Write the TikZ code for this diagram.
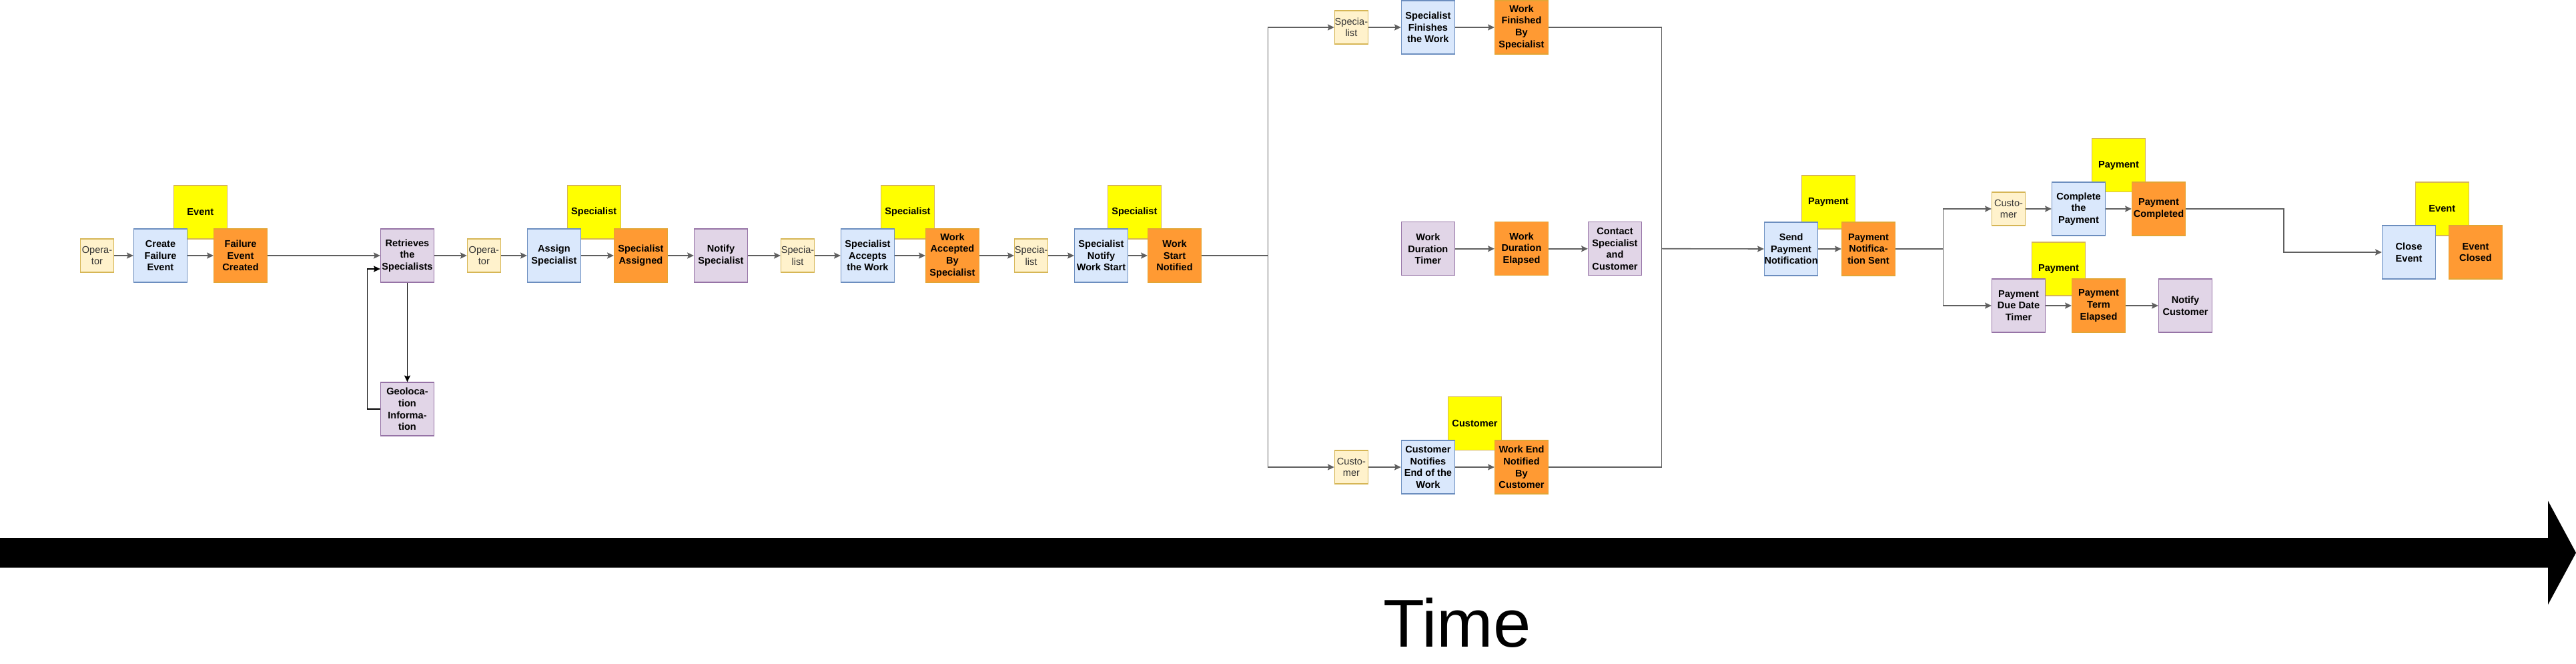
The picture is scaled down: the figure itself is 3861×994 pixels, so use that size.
\documentclass[tikz,border=0pt]{standalone}
\usepackage{fontspec}
\setmainfont{Liberation Sans}
\usepackage{tikz}
\usetikzlibrary{arrows.meta}
\definecolor{taskfill}{HTML}{DAE8FC}
\definecolor{taskline}{HTML}{6C8EBF}
\definecolor{evtfill}{HTML}{FF9A33}
\definecolor{evtline}{HTML}{E3A535}
\definecolor{tagfill}{HTML}{FFFF00}
\definecolor{tagline}{HTML}{D6B656}
\definecolor{procfill}{HTML}{E1D5E7}
\definecolor{procline}{HTML}{9673A6}
\definecolor{actfill}{HTML}{FFF2CC}
\definecolor{actline}{HTML}{D6B656}
\definecolor{flowcol}{HTML}{5F5F5F}
\tikzset{>={Stealth[length=5.6pt,width=5.2pt,inset=1pt]}}
\tikzset{
  box/.style={rectangle, line width=0.7pt, align=center, inner sep=0pt,
    minimum width=1.6cm, minimum height=1.6cm,
    font=\fontsize{8.3}{10}\selectfont\bfseries},
  task/.style={box, fill=taskfill, draw=taskline},
  evt/.style={box, fill=evtfill, draw=evtline},
  tag/.style={box, fill=tagfill, draw=tagline},
  proc/.style={box, fill=procfill, draw=procline},
  act/.style={box, fill=actfill, draw=actline, minimum width=1cm,
    minimum height=1cm, text=black!80,
    font=\fontsize{8.3}{10}\selectfont},
  flow/.style={draw=flowcol, line width=0.9pt},
  thin/.style={draw=black, line width=0.6pt}
}

\begin{document}
\begin{tikzpicture}[x=0.02cm,y=-0.02cm]
\useasboundingbox (0,0) rectangle (3861,994);

% ---------------- Owner tags (behind) ----------------
\node[tag] (tagev1) at (300.3,318) {Event};
\node[tag] (tagsp1) at (890.2,318) {Specialist};
\node[tag] (tagsp2) at (1360.5,318) {Specialist};
\node[tag] (tagsp3) at (1700.3,318) {Specialist};
\node[tag] (tagcu) at (2210.5,634.7) {Customer};
\node[tag] (tagpay1) at (2740.4,303) {Payment};
\node[tag] (tagpay2) at (3175.5,247.7) {Payment};
\node[tag] (tagpay3) at (3085.5,403) {Payment};
\node[tag] (tagev2) at (3660.3,313) {Event};

% ---------------- Failure event ----------------
\node[act] (op1) at (145.5,383) {Opera-\\tor};
\node[task] (create) at (240.5,383) {Create\\Failure\\Event};
\node[evt] (created) at (360.6,383) {Failure\\Event\\Created};
\node[proc] (retrieve) at (610.5,383) {Retrieves\\the\\Specialists};
\node[proc] (geo) at (610.5,613) {Geoloca-\\tion\\Informa-\\tion};
\coordinate (loop) at (550.8,403);

% ---------------- Assignment ----------------
\node[act] (op2) at (725.4,383) {Opera-\\tor};
\node[task] (assign) at (830.5,383) {Assign\\Specialist};
\node[evt] (assigned) at (960.5,383) {Specialist\\Assigned};
\node[proc] (notifyspec) at (1080.5,383) {Notify\\Specialist};
\node[act] (sp1) at (1195.5,383) {Specia-\\list};
\node[task] (accepts) at (1300.5,383) {Specialist\\Accepts\\the Work};
\node[evt] (accepted) at (1427.5,383) {Work\\Accepted\\By\\Specialist};
\node[act] (sp2) at (1545.5,383) {Specia-\\list};
\node[task] (notifystart) at (1650.5,383) {Specialist\\Notify\\Work Start};
\node[evt] (startnotified) at (1760.5,383) {Work\\Start\\Notified};
\coordinate (split) at (1900.4,383);

% ---------------- Work branches ----------------
\node[act] (sp3) at (2025.4,41) {Specia-\\list};
\node[task] (finishes) at (2140.4,41) {Specialist\\Finishes\\the Work};
\node[evt] (finished) at (2280.5,41) {Work\\Finished\\By\\Specialist};

\node[proc] (timer) at (2140.4,372.8) {Work\\Duration\\Timer};
\node[evt] (elapsed) at (2280.5,372.8) {Work\\Duration\\Elapsed};
\node[proc] (contact) at (2420.5,372.8) {Contact\\Specialist\\and\\Customer};

\node[act] (cu1) at (2025.4,700) {Custo-\\mer};
\node[task] (custnotifies) at (2140.4,700) {Customer\\Notifies\\End of the\\Work};
\node[evt] (endnotified) at (2280.5,700) {Work End\\Notified\\By\\Customer};
\coordinate (merge) at (2490.6,372.7);

% ---------------- Payment ----------------
\node[task] (sendpay) at (2684.6,373) {Send\\Payment\\Notification};
\node[evt] (paysent) at (2800.5,373) {Payment\\Notifica-\\tion Sent};
\coordinate (split2) at (2912.6,373);

\node[act] (cu2) at (3010.5,313) {Custo-\\mer};
\node[task] (complete) at (3115.5,313) {Complete\\the\\Payment};
\node[evt] (paid) at (3235.5,313) {Payment\\Completed};

\node[proc] (duetimer) at (3025.5,458) {Payment\\Due Date\\Timer};
\node[evt] (termelapsed) at (3145.5,458) {Payment\\Term\\Elapsed};
\node[proc] (notifycust) at (3275.5,458) {Notify\\Customer};
\coordinate (join) at (3423,378);

% ---------------- Closing ----------------
\node[task] (close) at (3610.5,378) {Close\\Event};
\node[evt] (closed) at (3710.5,378) {Event\\Closed};

% ---------------- Connectors ----------------
\draw[flow,->] (op1) -- (create);
\draw[flow,->] (create) -- (created);
\draw[flow,->] (created) -- (retrieve);
\draw[thin,->] (retrieve) -- (geo);
\draw[thin,->] (geo.west) -| (loop) -- (retrieve.west |- loop);
\draw[flow,->] (retrieve) -- (op2);
\draw[flow,->] (op2) -- (assign);
\draw[flow,->] (assign) -- (assigned);
\draw[flow,->] (assigned) -- (notifyspec);
\draw[flow,->] (notifyspec) -- (sp1);
\draw[flow,->] (sp1) -- (accepts);
\draw[flow,->] (accepts) -- (accepted);
\draw[flow,->] (accepted) -- (sp2);
\draw[flow,->] (sp2) -- (notifystart);
\draw[flow,->] (notifystart) -- (startnotified);
\draw[flow] (startnotified) -- (split);
\draw[flow,->] (split) |- (sp3);
\draw[flow,->] (split) |- (cu1);
\draw[flow,->] (sp3) -- (finishes);
\draw[flow,->] (finishes) -- (finished);
\draw[flow,->] (timer) -- (elapsed);
\draw[flow,->] (elapsed) -- (contact);
\draw[flow,->] (cu1) -- (custnotifies);
\draw[flow,->] (custnotifies) -- (endnotified);
\draw[flow] (finished.east) -| (merge);
\draw[flow] (endnotified.east) -| (merge);
\draw[flow,->] (merge) -- (sendpay.west);
\draw[flow,->] (sendpay) -- (paysent);
\draw[flow] (paysent) -- (split2);
\draw[flow,->] (split2) |- (cu2);
\draw[flow,->] (split2) |- (duetimer);
\draw[flow,->] (cu2) -- (complete);
\draw[flow,->] (complete) -- (paid);
\draw[flow,->] (duetimer) -- (termelapsed);
\draw[flow,->] (termelapsed) -- (notifycust);
\draw[flow,->] (paid.east) -| (join) -- (close.west);

% ---------------- Time axis ----------------
\fill (0,806) -- (3819,806) -- (3819,750.5) -- (3861,828.3)
  -- (3819,906) -- (3819,850.5) -- (0,850.5) -- cycle;
\node[anchor=base, font=\fontsize{57.7}{60}\selectfont] (time) at (2184,969.3) {Time};

\end{tikzpicture}
\end{document}
